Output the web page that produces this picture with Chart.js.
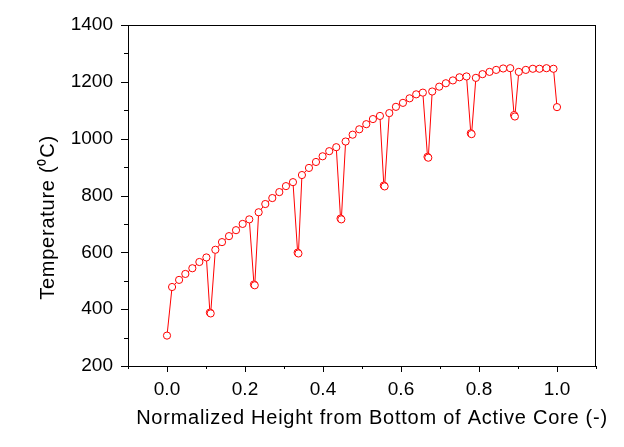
<!DOCTYPE html>
<html>
<head>
<meta charset="utf-8">
<script src="https://cdn.jsdelivr.net/npm/chart.js@4"></script>
<style>
  html, body { margin: 0; padding: 0; background: #fff; }
  #wrap { width: 624px; height: 447px; }
</style>
</head>
<body>
<div id="wrap"><canvas id="chart" width="624" height="447"></canvas></div>
<script>
/* ── Data ──────────────────────────────────────────────────── */
const heights = [
  0.000, 0.013, 0.031, 0.047, 0.065, 0.083, 0.101, 0.110, 0.112,
  0.124, 0.141, 0.159, 0.177, 0.194, 0.211, 0.223, 0.225,
  0.235, 0.252, 0.270, 0.288, 0.305, 0.323, 0.335, 0.337,
  0.346, 0.364, 0.382, 0.399, 0.416, 0.434, 0.445, 0.447,
  0.458, 0.476, 0.493, 0.511, 0.528, 0.546, 0.556, 0.558,
  0.570, 0.587, 0.605, 0.622, 0.639, 0.656, 0.668, 0.670,
  0.680, 0.698, 0.715, 0.733, 0.750, 0.768, 0.779, 0.781,
  0.792, 0.809, 0.827, 0.844, 0.862, 0.880, 0.890, 0.892,
  0.902, 0.920, 0.938, 0.955, 0.973, 0.991, 1.000
];
const temperatures = [
  307, 478, 503, 524, 544, 566, 582, 388, 385,
  609, 636, 657, 678, 700, 716, 487, 484,
  741, 770, 791, 812, 833, 847, 599, 596,
  872, 897, 918, 938, 956, 970, 719, 716,
  990, 1014, 1033, 1051, 1069, 1080, 835, 832,
  1090, 1112, 1126, 1142, 1156, 1162, 936, 933,
  1166, 1183, 1195, 1205, 1216, 1219, 1019, 1016,
  1214, 1227, 1235, 1242, 1247, 1248, 1083, 1078,
  1235, 1242, 1246, 1246, 1248, 1246, 1111
];
const xTickLabels = ['0.0', '0.2', '0.4', '0.6', '0.8', '1.0'];
const yTickLabels = ['200', '400', '600', '800', '1000', '1200', '1400'];
const xTitle = 'Normalized Height from Bottom of Active Core (-)';
const yTitle = 'Temperature (\u2070C)';

const FONT = "'Liberation Sans', Arial, sans-serif";

function labelFor(list, v) {
  return list.find(s => Math.abs(parseFloat(s) - v) < 1e-6);
}

/* ── Frame, major/minor tick marks and axis titles ─────────── */
const frame = {
  id: 'frame',
  beforeDatasetsDraw(chart) {
    const { ctx, chartArea: a, scales: { x, y } } = chart;
    ctx.save();
    ctx.strokeStyle = '#000';
    ctx.lineWidth = 1;
    ctx.strokeRect(a.left + 0.5, a.top + 0.5, a.width - 1, a.height);
    ctx.beginPath();
    x.ticks.forEach(t => {
      const px = Math.round(x.getPixelForValue(t.value)) + 0.5;
      const len = labelFor(xTickLabels, t.value) ? 6 : 3;
      ctx.moveTo(px, a.bottom);
      ctx.lineTo(px, a.bottom + len);
    });
    y.ticks.forEach(t => {
      const py = Math.round(y.getPixelForValue(t.value)) + 0.5;
      const len = labelFor(yTickLabels, t.value) ? 7 : 4;
      ctx.moveTo(a.left, py);
      ctx.lineTo(a.left - len, py);
    });
    ctx.stroke();
    ctx.restore();
  },
  afterDraw(chart) {
    const { ctx, chartArea: a } = chart;
    ctx.save();
    ctx.fillStyle = '#000';
    ctx.font = '20px ' + FONT;
    ctx.letterSpacing = '0.75px';
    ctx.textAlign = 'center';
    ctx.textBaseline = 'alphabetic';
    ctx.fillText(xTitle, (a.left + a.right) / 2 + 10, a.bottom + 58);
    ctx.translate(a.left - 74, (a.top + a.bottom) / 2 + 22);
    ctx.rotate(-Math.PI / 2);
    ctx.fillText(yTitle, 0, 0);
    ctx.restore();
  }
};

new Chart(document.getElementById('chart'), {
  type: 'scatter',
  data: {
    datasets: [{
      data: heights.map((h, i) => ({ x: h, y: temperatures[i] })),
      showLine: true,
      borderColor: '#ff0000',
      borderWidth: 1,
      pointStyle: 'circle',
      pointRadius: 3.6,
      pointBorderWidth: 1,
      pointBorderColor: '#ff0000',
      pointBackgroundColor: '#ffffff'
    }]
  },
  options: {
    responsive: false,
    animation: false,
    devicePixelRatio: 1,
    layout: { autoPadding: false, padding: { left: 0, right: 28, top: 25, bottom: 0 } },
    plugins: { legend: { display: false }, tooltip: { enabled: false } },
    scales: {
      x: {
        type: 'linear',
        min: -0.1, max: 1.1,
        afterFit: s => { s.height = 81; },
        grid: { display: false, drawTicks: true, tickLength: 6 },
        border: { display: false },
        ticks: {
          stepSize: 0.1, autoSkip: false, maxRotation: 0, padding: 6,
          color: '#000', font: { family: FONT, size: 19 },
          callback: v => labelFor(xTickLabels, v) || ''
        }
      },
      y: {
        min: 200, max: 1400,
        afterFit: s => { s.width = 128; },
        grid: { display: false, drawTicks: true, tickLength: 7 },
        border: { display: false },
        ticks: {
          stepSize: 100, autoSkip: false, padding: 8,
          color: '#000', font: { family: FONT, size: 19 },
          callback: v => labelFor(yTickLabels, v) || ''
        }
      }
    }
  },
  plugins: [frame]
});
</script>
</body>
</html>
